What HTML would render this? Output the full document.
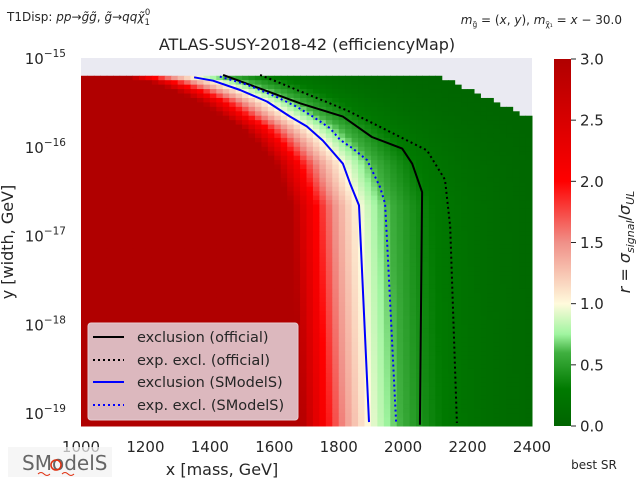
<!DOCTYPE html>
<html><head><meta charset="utf-8"><style>
body{margin:0;background:#fff;}
svg text{font-family:"DejaVu Sans","Liberation Sans",sans-serif;fill:#262626;}
</style></head><body>
<svg id="chart" width="640" height="480" viewBox="0 0 640 480" xmlns="http://www.w3.org/2000/svg">
<rect width="640" height="480" fill="#fff"/>
<rect x="81" y="58" width="451" height="368" fill="#eaeaf2"/>
<g id="heat"></g>
<g id="lines"></g>
<text x="7" y="21" font-size="12">T1Disp: <tspan font-style="italic">pp</tspan>→<tspan font-style="italic">g̃g̃</tspan>, <tspan font-style="italic">g̃</tspan>→<tspan font-style="italic">qqχ̃</tspan><tspan font-size="8.5" dy="4">1</tspan><tspan font-size="8.5" dx="-5" dy="-10">0</tspan></text>
<text x="622" y="24" font-size="12" text-anchor="end"><tspan font-style="italic">m</tspan><tspan font-size="7.5" dy="3">g̃</tspan><tspan dy="-3"> = (</tspan><tspan font-style="italic">x</tspan>, <tspan font-style="italic">y</tspan>), <tspan font-style="italic">m</tspan><tspan font-size="7.5" dy="3">χ̃₁</tspan><tspan dy="-3"> = </tspan><tspan font-style="italic">x</tspan> − 30.0</text>
<text x="307" y="50" font-size="16" text-anchor="middle">ATLAS-SUSY-2018-42 (efficiencyMap)</text>
<g id="xt"></g>
<g id="yt"></g>
<text x="222" y="475" font-size="16" text-anchor="middle">x [mass, GeV]</text>
<text transform="translate(13,242) rotate(-90)" font-size="16" text-anchor="middle">y [width, GeV]</text>
<defs><linearGradient id="cg" x1="0" y1="1" x2="0" y2="0">
<stop offset="0" stop-color="#006400"/><stop offset="0.1" stop-color="#007a00"/><stop offset="0.2" stop-color="#40b040"/><stop offset="0.25" stop-color="#a0f5a0"/><stop offset="0.333" stop-color="#fffadc"/><stop offset="0.5" stop-color="#f09088"/><stop offset="0.667" stop-color="#ff0000"/><stop offset="1" stop-color="#b00000"/>
</linearGradient></defs>
<rect x="554" y="59" width="17" height="367" fill="url(#cg)"/>
<g id="ct"></g>
<text transform="translate(630,242) rotate(-90)" font-size="16" text-anchor="middle"><tspan font-style="italic">r</tspan> = <tspan font-style="italic">σ</tspan><tspan font-size="11" font-style="italic" dy="4">signal</tspan><tspan dy="-4">/</tspan><tspan font-style="italic">σ</tspan><tspan font-size="11" font-style="italic" dy="4">UL</tspan></text>
<text x="594" y="469" font-size="12" text-anchor="middle">best SR</text>
<g>
<rect x="88" y="323" width="210" height="97" rx="3" fill="#dcb8be" stroke="#e6cdd1"/>
<line x1="93" y1="337" x2="124" y2="337" stroke="#000" stroke-width="2"/>
<text x="137" y="342" font-size="14.5">exclusion (official)</text>
<line x1="93" y1="360" x2="124" y2="360" stroke="#000" stroke-width="2" stroke-dasharray="2,3"/>
<text x="137" y="365" font-size="14.5">exp. excl. (official)</text>
<line x1="93" y1="382" x2="124" y2="382" stroke="#0000ff" stroke-width="2"/>
<text x="137" y="387" font-size="14.5">exclusion (SModelS)</text>
<line x1="93" y1="405" x2="124" y2="405" stroke="#0000ff" stroke-width="2" stroke-dasharray="2,3"/>
<text x="137" y="410" font-size="14.5">exp. excl. (SModelS)</text>
</g>
<g>
<rect x="8" y="447" width="104" height="30" fill="#f2f2f2" opacity="0.7"/>
<text x="22" y="470" font-size="20" style="fill:#666">SModelS</text>
<circle cx="56" cy="465" r="5" fill="none" stroke="#e03010" stroke-width="1.5"/>
<path d="M38 474 q3 -3 6 0 q3 3 6 0 M62 474 q3 -3 6 0 q3 3 6 0" fill="none" stroke="#e03010"/>
</g>
</svg>
<script>
const xTicks=[1000,1200,1400,1600,1800,2000,2200,2400];
const yTicks=[-15,-16,-17,-18,-19];
const cTicks=[0,0.5,1,1.5,2,2.5,3];
// contours: x values (GeV) and log10(y) values
const blueSolidX=[1351,1410,1494,1577,1649,1701,1751,1782,1813,1835,1863,1894];
const blueSolidY=[-15.217,-15.256,-15.36,-15.49,-15.66,-15.77,-15.93,-16.06,-16.19,-16.41,-16.66,-19.10];
const blueDotX=[1431,1515,1608,1670,1720,1773,1804,1844,1888,1928,1944,1953,1978];
const blueDotY=[-15.21,-15.30,-15.44,-15.55,-15.66,-15.79,-15.92,-16.02,-16.15,-16.45,-16.64,-17.27,-19.10];
const blackSolidX=[1441,1680,1813,1903,1997,2028,2059,2052];
const blackSolidY=[-15.19,-15.51,-15.66,-15.89,-16.02,-16.19,-16.51,-19.13];
const blackDotX=[1556,1826,2074,2130,2146,2167];
const blackDotY=[-15.19,-15.59,-16.04,-16.37,-16.90,-19.11];
// heatmap grid
const gridXStart=1000, gridXEnd=2400, gridXStep=20;
const gridYTop=-15.2, gridYBottom=-19.2, gridYStep=0.05;

const X=v=>81+(v-1000)*451/1400;
const Y=l=>58+(-15-l)*88.8;
const NS="http://www.w3.org/2000/svg";
function mk(tag,attrs,parent){const e=document.createElementNS(NS,tag);for(const k in attrs)e.setAttribute(k,attrs[k]);parent.appendChild(e);return e;}
function interpX(xs,ys,l){
  if(l>=ys[0])return xs[0];
  for(let i=1;i<ys.length;i++){if(l>=ys[i]){const t=(l-ys[i-1])/(ys[i]-ys[i-1]);return xs[i-1]+t*(xs[i]-xs[i-1]);}}
  return xs[xs.length-1];
}
const stops=[[0,[0,100,0]],[0.3,[0,122,0]],[0.6,[64,176,64]],[0.75,[160,245,160]],[1,[255,250,220]],[1.5,[240,144,136]],[2,[255,0,0]],[3,[176,0,0]]];
function col(r){r=Math.max(0,Math.min(3,r));for(let i=1;i<stops.length;i++){if(r<=stops[i][0]){const a=stops[i-1],b=stops[i];const t=(r-a[0])/(b[0]-a[0]);const c=a[1].map((v,j)=>Math.round(v+t*(b[1][j]-v)));return`rgb(${c})`;}}return"rgb(176,0,0)";}
const heat=document.getElementById('heat');
for(let l=gridYTop;l>gridYBottom;l-=gridYStep){
  const xb=interpX(blueSolidX,blueSolidY,l-gridYStep/2);
  const maxX=Math.min(2400,2120+(gridYTop-l)*620);
  const y0=Y(l),y1=Math.min(426,Y(l-gridYStep));
  for(let x=gridXStart;x<gridXEnd;x+=gridXStep){
    if(x+gridXStep>maxX+10)break;
    const r=Math.pow(3,-((x+gridXStep/2)-xb)/210);
    const c=mk('rect',{x:X(x).toFixed(2),y:y0.toFixed(2),width:(X(x+gridXStep)-X(x)+0.5).toFixed(2),height:(y1-y0+0.5).toFixed(2),fill:col(r)},heat);
    
    
  }
}
const lines=document.getElementById('lines');
function poly(xs,ys,color,dash,name){
  const p=mk('polyline',{points:xs.map((v,i)=>X(v).toFixed(1)+','+Y(ys[i]).toFixed(1)).join(' '),fill:'none',stroke:color,'stroke-width':2,'stroke-linejoin':'round'},lines);
  if(dash)p.setAttribute('stroke-dasharray','2,3');
  
  
}
poly(blackSolidX,blackSolidY,'#000',false,'exclusion-official-line');
poly(blackDotX,blackDotY,'#000',true,'expected-exclusion-official-line');
poly(blueSolidX,blueSolidY,'#0000ff',false,'exclusion-smodels-line');
poly(blueDotX,blueDotY,'#0000ff',true,'expected-exclusion-smodels-line');
const xt=document.getElementById('xt');
xTicks.forEach(v=>{const t=mk('text',{x:X(v),y:452,'font-size':15,'text-anchor':'middle'},xt);t.textContent=v;

});
const yt=document.getElementById('yt');
yTicks.forEach(v=>{const t=mk('text',{x:66,y:Y(v)+6,'font-size':15,'text-anchor':'end'},yt);
t.innerHTML='10<tspan font-size="10.5" dy="-7">−'+(-v)+'</tspan>';

});
const ct=document.getElementById('ct');
cTicks.forEach(v=>{const y=426-v*367/3;
mk('line',{x1:571,x2:576,y1:y,y2:y,stroke:'#262626'},ct);
const t=mk('text',{x:580,y:y+5.5,'font-size':15},ct);t.textContent=v.toFixed(1);

});
</script>
</body></html>
